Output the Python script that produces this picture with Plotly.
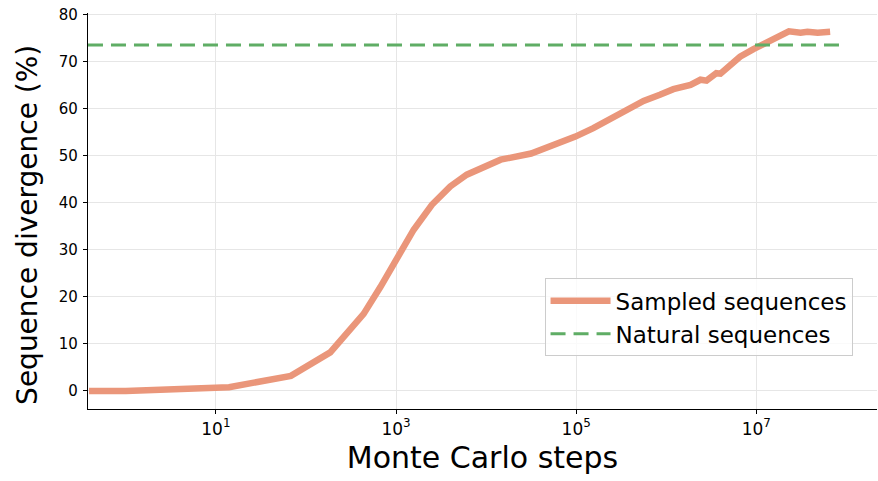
import plotly.graph_objects as go

# Sampled sequences: Monte Carlo steps vs divergence (%)
mc_steps = [0.39, 1, 14, 68, 186, 437, 670, 1030, 1570, 2500, 4000, 6100, 14500, 31600,
            66000, 9.8e4, 1.55e5, 2.4e5, 3.6e5, 5.6e5, 8.5e5, 1.2e6, 1.86e6, 2.4e6,
            2.8e6, 3.6e6, 4.0e6, 5.1e6, 6.6e6, 9.3e6, 1.32e7, 1.7e7, 2.3e7, 3.1e7,
            3.7e7, 4.8e7, 6.2e7, 6.6e7]
divergence = [0.0, 0.0, 0.8, 3.2, 8.2, 16.4, 22.1, 28.5, 34.3, 39.6, 43.5, 46.0, 49.2, 50.5,
              52.7, 54.1, 55.9, 58.0, 59.8, 61.7, 63.0, 64.2, 65.1, 66.2,
              66.0, 67.6, 67.5, 69.4, 71.1, 72.7, 74.3, 75.2, 76.5, 76.2,
              76.4, 76.2, 76.6, 76.4]

natural_steps = [0.38, 1.0e8]
natural_divergence = [73.6, 73.6]

tick_vals = [10, 1000, 1e5, 1e7]
tick_text = ["10<sup>1</sup>", "10<sup>3</sup>", "10<sup>5</sup>", "10<sup>7</sup>"]
y_ticks = [0, 10, 20, 30, 40, 50, 60, 70, 80]

fig = go.Figure()
fig.add_trace(go.Scatter(x=mc_steps, y=divergence, mode="lines",
                         name="Sampled sequences",
                         line=dict(color="#EA967A", width=6.5)))
fig.add_trace(go.Scatter(x=natural_steps, y=natural_divergence, mode="lines",
                         name="Natural sequences",
                         line=dict(color="#5FAD65", width=3, dash="15px,8px")))

fig.add_annotation(text="Sequence divergence (%)", xref="paper", yref="paper",
                   x=-0.076, y=0.465, xanchor="center", yanchor="middle",
                   textangle=-90, showarrow=False, font=dict(size=28))

fig.update_layout(
    width=878, height=481,
    margin=dict(l=88, r=1, t=13, b=72),
    paper_bgcolor="white", plot_bgcolor="white",
    font=dict(family="DejaVu Sans", color="black"),
    showlegend=True,
    legend=dict(x=0.969, y=0.133, xanchor="right", yanchor="bottom",
                bgcolor="rgba(255,255,255,0.8)", bordercolor="#cccccc", borderwidth=1,
                font=dict(size=23, family="DejaVu Sans"), itemwidth=60,
                tracegroupgap=2),
    xaxis=dict(type="log", range=[-0.42, 8.34], tickvals=tick_vals, ticktext=tick_text,
               automargin=False, ticklabeloverflow="allow",
               showgrid=True, gridcolor="#e6e6e6", gridwidth=1,
               showline=True, linecolor="black", linewidth=1.2,
               ticks="outside", ticklen=4, tickcolor="black",
               tickfont=dict(size=17), zeroline=False,
               title=dict(text="Monte Carlo steps", font=dict(size=30), standoff=9)),
    yaxis=dict(range=[-3.84, 80.4], tickvals=y_ticks,
               automargin=False, ticklabeloverflow="allow", ticklabelstandoff=2,
               showgrid=True, gridcolor="#e6e6e6", gridwidth=1,
               showline=True, linecolor="black", linewidth=1.2,
               ticks="outside", ticklen=4, tickcolor="black",
               tickfont=dict(size=15), zeroline=False),
)

fig.write_html("out.html", config={"displayModeBar": False},
               post_script="document.body.style.margin='0';document.body.style.overflow='hidden';")
